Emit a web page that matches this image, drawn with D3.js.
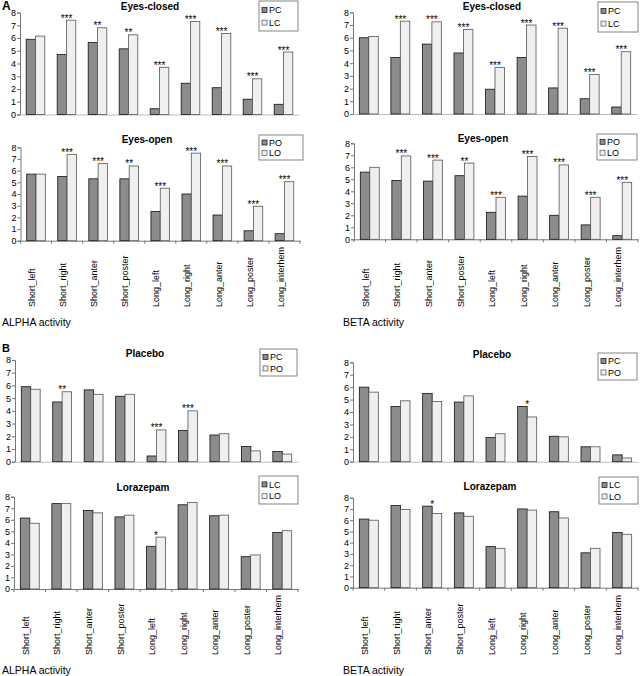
<!DOCTYPE html>
<html><head><meta charset="utf-8">
<script src="https://cdn.jsdelivr.net/npm/d3@7"></script>
<style>body{margin:0;background:#fff}svg{display:block}text{font-family:"Liberation Sans",Arial,sans-serif;fill:#000}</style>
</head><body>
<svg id="c" width="642" height="676"></svg>
<script>
const categories = ["Short_left","Short_right","Short_anter","Short_poster","Long_left","Long_right","Long_anter","Long_poster","Long_interhem"];
const yTicks = [0,1,2,3,4,5,6,7,8];

const alphaPC = [5.9,4.7,5.65,5.15,0.45,2.45,2.1,1.2,0.8];
const alphaLC = [6.15,7.4,6.8,6.25,3.7,7.3,6.35,2.8,4.9];
const alphaPO = [5.7,5.5,5.3,5.3,2.5,4.0,2.2,0.85,0.6];
const alphaLO = [5.7,7.4,6.6,6.4,4.5,7.5,6.4,2.95,5.05];

const betaPC = [6.0,4.45,5.5,4.8,1.95,4.45,2.05,1.2,0.55];
const betaLC = [6.1,7.3,7.25,6.65,3.65,7.0,6.75,3.1,4.9];
const betaPO = [5.6,4.9,4.85,5.3,2.25,3.6,2.0,1.2,0.3];
const betaLO = [6.0,6.95,6.6,6.35,3.5,6.9,6.2,3.5,4.75];

const sigAlphaClosed = ["","***","**","**","***","***","***","***","***"];
const sigAlphaOpen   = ["","***","***","**","***","***","***","***","***"];
const sigBetaClosed  = ["","***","***","***","***","***","***","***","***"];
const sigBetaOpen    = ["","***","***","**","***","***","***","***","***"];
const sigAlphaPlacebo = ["","**","","","***","***","","",""];
const sigAlphaLora    = ["","","","","*","","","",""];
const sigBetaPlacebo  = ["","","","","","*","","",""];
const sigBetaLora     = ["","","*","","","","","",""];

const panels = [
 {title:"Eyes-closed", n1:"PC", v1:alphaPC, n2:"LC", v2:alphaLC, sig:sigAlphaClosed,
  L:{x0:20,x1:299,yT:12.5,y0:114.5,tx:150,ty:6,lg:[259,1,39,30],xt:false,labels:null}},
 {title:"Eyes-open", n1:"PO", v1:alphaPO, n2:"LO", v2:alphaLO, sig:sigAlphaOpen,
  L:{x0:20.5,x1:300,yT:147.3,y0:240.7,tx:147,ty:139,lg:[259,135,44,25],xt:true,labels:307}},
 {title:"Eyes-closed", n1:"PC", v1:betaPC, n2:"LC", v2:betaLC, sig:sigBetaClosed,
  L:{x0:353,x1:637,yT:12.3,y0:114,tx:492,ty:6,lg:[598,2,40,30],xt:false,labels:null}},
 {title:"Eyes-open", n1:"PO", v1:betaPO, n2:"LO", v2:betaLO, sig:sigBetaOpen,
  L:{x0:354,x1:638,yT:143.3,y0:239.3,tx:483,ty:138,lg:[597,134,40,26],xt:true,labels:307}},
 {title:"Placebo", n1:"PC", v1:alphaPC, n2:"PO", v2:alphaPO, sig:sigAlphaPlacebo,
  L:{x0:15,x1:298,yT:360,y0:461.7,tx:145,ty:353,lg:[260,349,37,27],xt:false,labels:null}},
 {title:"Lorazepam", n1:"LC", v1:alphaLC, n2:"LO", v2:alphaLO, sig:sigAlphaLora,
  L:{x0:14,x1:298,yT:496.7,y0:589,tx:143,ty:487,lg:[259,476,39,28],xt:true,labels:655}},
 {title:"Placebo", n1:"PC", v1:betaPC, n2:"PO", v2:betaPO, sig:sigBetaPlacebo,
  L:{x0:353,x1:638,yT:362.3,y0:461.7,tx:492,ty:354,lg:[598,353,39,27],xt:false,labels:null}},
 {title:"Lorazepam", n1:"LC", v1:betaLC, n2:"LO", v2:betaLO, sig:sigBetaLora,
  L:{x0:353,x1:638,yT:497.7,y0:587.7,tx:490,ty:486,lg:[599,477,39,27],xt:true,labels:655}}
];

const darkFill = "#8c8c8c", lightFill = "#efefef";
const svg = d3.select("#c");

panels.forEach(p => {
  const L = p.L;
  const g = svg.append("g");
  const x = d3.scaleBand().domain(categories).range([L.x0, L.x1]).paddingInner(0.4).paddingOuter(0.2);
  const x2 = d3.scaleBand().domain([0,1]).range([0, x.bandwidth()]);
  const y = d3.scaleLinear().domain([0,8]).range([L.y0, L.yT]);

  const ya = d3.axisLeft(y).tickValues(yTicks).tickSize(3).tickFormat(d3.format("d"));
  const yg = g.append("g").attr("transform",`translate(${L.x0},0)`).call(ya);
  yg.select(".domain").attr("stroke","#777");
  yg.selectAll(".tick line").attr("stroke","#777");
  yg.selectAll("text").attr("font-size",9).attr("fill","#222").attr("x",-4);

  const xa = d3.axisBottom(x).tickSize(0).tickFormat("");
  const xg = g.append("g").attr("transform",`translate(0,${L.y0})`).call(xa);
  xg.select(".domain").attr("stroke", L.xt ? "#777" : "#bbb");
  if (L.xt) {
    const bw = x.step();
    g.selectAll(".xb").data(d3.range(categories.length+1)).join("line")
      .attr("x1", i => L.x0 + i*bw).attr("x2", i => L.x0 + i*bw)
      .attr("y1", L.y0).attr("y2", L.y0+3).attr("stroke","#777");
  }

  categories.forEach((c,i) => {
    [[p.v1[i],darkFill,"#111"],[p.v2[i],lightFill,"#555"]].forEach((s,j) => {
      g.append("rect")
        .attr("x", x(c) + x2(j)).attr("width", x2.bandwidth())
        .attr("y", y(s[0])).attr("height", y(0)-y(s[0]))
        .attr("fill", s[1]).attr("stroke", s[2]).attr("stroke-width",0.8);
    });
    if (p.sig[i]) {
      g.append("text").attr("x", x(c)+x.bandwidth()/2).attr("y", y(Math.max(p.v1[i],p.v2[i]))+1.5)
        .attr("text-anchor","middle").attr("font-size",10).attr("fill","#111").text(p.sig[i]);
    }
  });

  g.append("text").attr("x",L.tx).attr("y",L.ty).attr("dy","0.35em").attr("text-anchor","middle")
    .attr("font-size",10).attr("font-weight","bold").text(p.title);

  const [lx,ly,lw,lh] = L.lg;
  g.append("rect").attr("x",lx).attr("y",ly).attr("width",lw).attr("height",lh)
    .attr("fill","#fff").attr("stroke","#666").attr("stroke-width",0.8);
  [[p.n1,darkFill,"#111"],[p.n2,lightFill,"#555"]].forEach((s,j) => {
    const cy = ly + lh*(j===0?0.3:0.72);
    g.append("rect").attr("x",lx+3).attr("y",cy-2.5).attr("width",5).attr("height",5)
      .attr("fill",s[1]).attr("stroke",s[2]).attr("stroke-width",0.7);
    g.append("text").attr("x",lx+10).attr("y",cy).attr("dy","0.35em").attr("font-size",9).text(s[0]);
  });

  if (L.labels) {
    categories.forEach(c => {
      const cx = x(c)+x.bandwidth()/2 - 4;
      g.append("text").attr("transform",`translate(${cx},${L.labels}) rotate(-90)`)
        .attr("dy","0.35em").attr("font-size",9).attr("fill","#222").text(c);
    });
  }
});

svg.append("text").attr("x",2).attr("y",10).attr("font-size",12).attr("font-weight","bold").text("A");
svg.append("text").attr("x",2).attr("y",352).attr("font-size",11).attr("font-weight","bold").text("B");
svg.append("text").attr("x",2).attr("y",326).attr("font-size",10.5).text("ALPHA activity");
svg.append("text").attr("x",343).attr("y",326).attr("font-size",10.5).text("BETA activity");
svg.append("text").attr("x",2).attr("y",674).attr("font-size",10.5).text("ALPHA activity");
svg.append("text").attr("x",343).attr("y",674).attr("font-size",10.5).text("BETA activity");
</script>
</body></html>
